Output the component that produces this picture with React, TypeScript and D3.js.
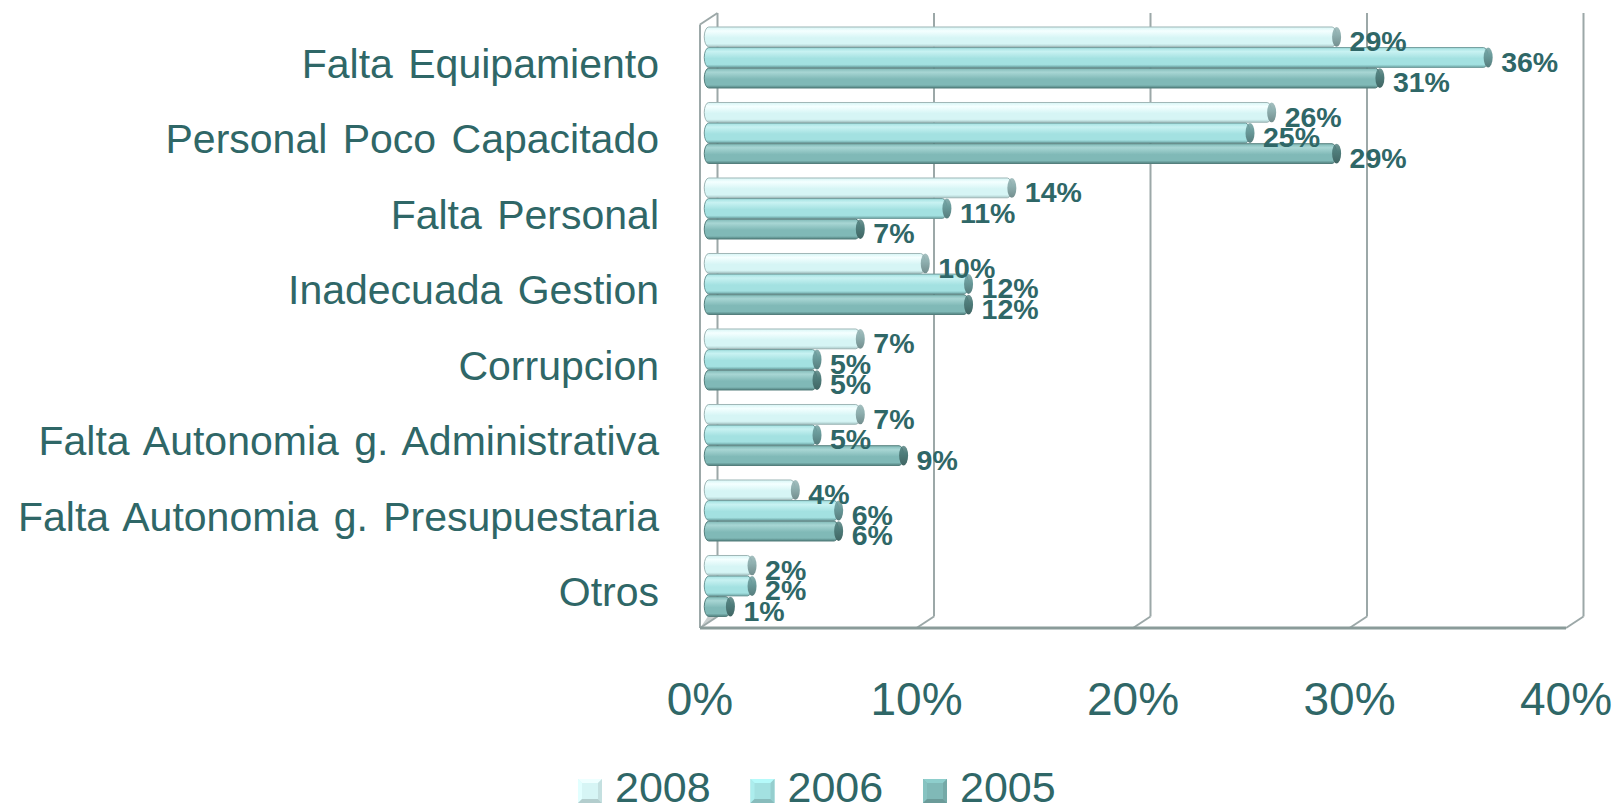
import React from "react";
import * as d3 from "d3";

const categories = [
  "Falta Equipamiento",
  "Personal Poco Capacitado",
  "Falta Personal",
  "Inadecuada Gestion",
  "Corrupcion",
  "Falta Autonomia g. Administrativa",
  "Falta Autonomia g. Presupuestaria",
  "Otros",
];
const years = ["2008", "2006", "2005"];
const values2008 = [29, 26, 14, 10, 7, 7, 4, 2];
const values2006 = [36, 25, 11, 12, 5, 5, 6, 2];
const values2005 = [31, 29, 7, 12, 5, 9, 6, 1];
const seriesValues = [values2008, values2006, values2005];
const tickValues = [0, 10, 20, 30, 40];

const W = 1623;
const H = 812;
const TEXT = "#2f6767";
const GRID = "#9ca8a8";
const FONT = "'Liberation Sans', Arial, sans-serif";

const palette = [
  { hi: "#f4ffff", mid: "#d6f5f5", lo: "#a9c9c9", cap: "#8fb0b0", edge: "#9fb7b7" },
  { hi: "#c8f2f2", mid: "#a3e1e1", lo: "#6fa8a8", cap: "#6a9b9b", edge: "#6f9a9a" },
  { hi: "#a8d6d4", mid: "#80b9b7", lo: "#507f7d", cap: "#4f7d7b", edge: "#557f7d" },
];

export default function App() {
  const dx = 17.5;
  const dy = -11.5;
  const floorY = 628;
  const topY = 13;
  const x = d3.scaleLinear().domain([0, 40]).range([700, 1566]);
  const xMid = (v: number) => x(v) + dx / 2;

  const yBand = d3
    .scaleBand<string>()
    .domain(categories)
    .range([19.75, 623.75])
    .paddingInner(0.192)
    .paddingOuter(0.096);
  const ySub = d3
    .scaleBand<string>()
    .domain(years)
    .range([0, yBand.bandwidth()])
    .paddingInner(0.04);
  const bh = ySub.bandwidth();
  const capRx = 4.5;

  const labelFs = 41;
  const dataFs = 28.5;

  return (
    <div style={{ position: "absolute", left: 0, top: 0, width: W, height: H, overflow: "hidden" }}>
      <svg width={W} height={H} style={{ display: "block", background: "#fff" }} fontFamily={FONT}>
        <defs>
          {palette.map((p, i) => (
            <linearGradient key={i} id={`cyl${i}`} x1="0" y1="0" x2="0" y2="1">
              <stop offset="0" stopColor={p.mid} />
              <stop offset="0.2" stopColor={p.hi} />
              <stop offset="0.55" stopColor={p.mid} />
              <stop offset="0.85" stopColor={p.mid} />
              <stop offset="1" stopColor={p.lo} />
            </linearGradient>
          ))}
          {palette.map((p, i) => (
            <linearGradient key={"c" + i} id={`cap${i}`} x1="0" y1="0" x2="0" y2="1">
              <stop offset="0" stopColor={p.cap} stopOpacity={0.8} />
              <stop offset="0.4" stopColor={p.cap} />
              <stop offset="1" stopColor={d3.color(p.cap)!.darker(0.6).formatHex()} />
            </linearGradient>
          ))}
        </defs>

        {/* left wall */}
        <line x1={x(0)} y1={topY - dy} x2={x(0)} y2={floorY} stroke={GRID} strokeWidth={2} />
        <line x1={x(0)} y1={topY - dy} x2={x(0) + dx} y2={topY} stroke={GRID} strokeWidth={2} />
        <polygon
          points={`${x(0)},${floorY} ${x(0) + dx},${floorY + dy} ${x(0) + dx},${floorY + dy - 14}`}
          fill="#c9cfcf"
        />

        {/* back gridlines */}
        {tickValues.map((t) => (
          <g key={t}>
            <line x1={x(t) + dx} y1={topY} x2={x(t) + dx} y2={floorY + dy} stroke={GRID} strokeWidth={2} />
            <line x1={x(t) + dx} y1={floorY + dy} x2={x(t)} y2={floorY} stroke={GRID} strokeWidth={2} />
          </g>
        ))}
        {/* floor front edge */}
        <line x1={x(0)} y1={floorY} x2={x(40)} y2={floorY} stroke="#8a9b99" strokeWidth={3} />

        {/* bars */}
        {categories.map((c, ci) => (
          <g key={c}>
            {years.map((yr, si) => {
              const v = seriesValues[si][ci];
              const y0 = (yBand(c) as number) + (ySub(yr) as number);
              const x0 = xMid(0);
              const x1 = xMid(v);
              const p = palette[si];
              return (
                <g key={yr}>
                  <rect
                    x={x0 - capRx}
                    y={y0}
                    width={x1 - x0 + capRx}
                    height={bh}
                    rx={capRx}
                    ry={bh / 2}
                    fill={`url(#cyl${si})`}
                    stroke={p.edge}
                    strokeWidth={1}
                  />
                  <ellipse cx={x1} cy={y0 + bh / 2} rx={capRx} ry={bh / 2} fill={`url(#cap${si})`} />
                </g>
              );
            })}
          </g>
        ))}

        {/* data labels */}
        {categories.map((c, ci) => (
          <g key={"l" + c}>
            {years.map((yr, si) => {
              const v = seriesValues[si][ci];
              const y0 = (yBand(c) as number) + (ySub(yr) as number);
              return (
                <text
                  key={yr}
                  x={xMid(v) + 13}
                  y={y0 + bh / 2 + 4 + dataFs * 0.358}
                  fontSize={dataFs}
                  fontWeight="bold"
                  fill={TEXT}
                >
                  {v}%
                </text>
              );
            })}
          </g>
        ))}

        {/* category labels */}
        {categories.map((c) => (
          <text
            key={"c" + c}
            x={659}
            y={(yBand(c) as number) + yBand.bandwidth() / 2 - dy / 2 + labelFs * 0.358}
            fontSize={labelFs}
            wordSpacing={4}
            textAnchor="end"
            fill={TEXT}
          >
            {c}
          </text>
        ))}

        {/* x axis ticks */}
        {tickValues.map((t) => (
          <text key={"t" + t} x={x(t)} y={715} fontSize={46} textAnchor="middle" fill={TEXT}>
            {d3.format("d")(t)}%
          </text>
        ))}

        {/* legend */}
        {years.map((yr, i) => {
          const lx = 578 + i * 172.5;
          const ly = 779;
          const s = 24;
          const p = palette[i];
          const c = d3.color(p.mid)!;
          return (
            <g key={"lg" + yr}>
              <rect x={lx} y={ly} width={s} height={s} fill={p.mid} />
              <polygon points={`${lx},${ly} ${lx + s},${ly} ${lx + s / 2},${ly + s / 2}`} fill={c.brighter(0.3).formatHex()} />
              <polygon points={`${lx},${ly} ${lx},${ly + s} ${lx + s / 2},${ly + s / 2}`} fill={c.brighter(0.15).formatHex()} />
              <polygon points={`${lx + s},${ly} ${lx + s},${ly + s} ${lx + s / 2},${ly + s / 2}`} fill={c.darker(0.25).formatHex()} />
              <polygon points={`${lx},${ly + s} ${lx + s},${ly + s} ${lx + s / 2},${ly + s / 2}`} fill={c.darker(0.5).formatHex()} />
              <rect x={lx + 4} y={ly + 4} width={s - 8} height={s - 8} fill={p.mid} />
              <text x={lx + s + 13} y={802} fontSize={43} fill={TEXT}>
                {yr}
              </text>
            </g>
          );
        })}
      </svg>
    </div>
  );
}
